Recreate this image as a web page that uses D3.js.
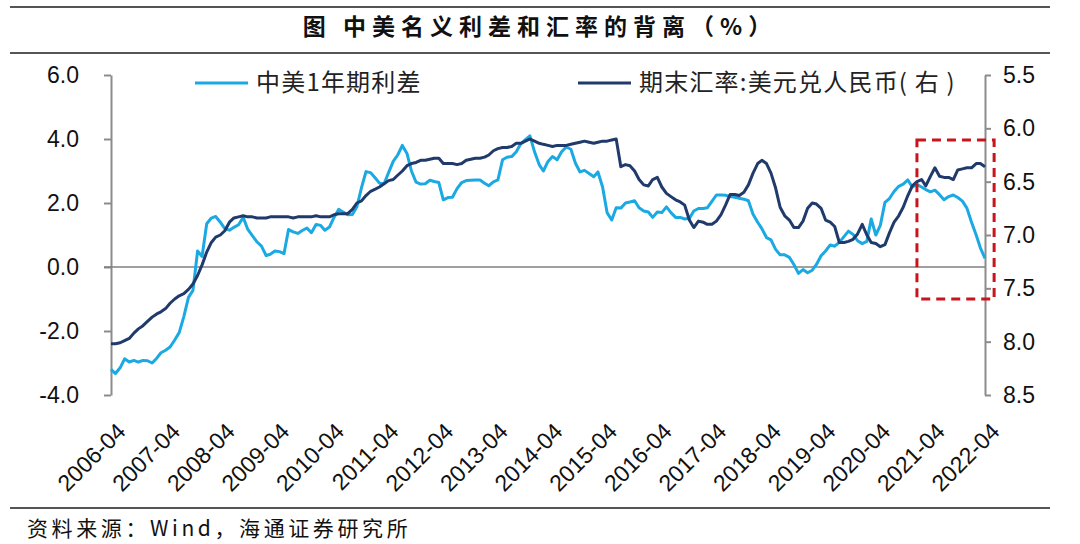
<!DOCTYPE html>
<html>
<head>
<meta charset="utf-8">
<script src="https://cdn.jsdelivr.net/npm/d3@7/dist/d3.min.js"></script>
<style>
  html, body { margin: 0; padding: 0; background: #fff; }
  svg { display: block; }
</style>
</head>
<body>
<svg id="chart" width="1080" height="544"></svg>
<script>
// ---------------- DATA ----------------
const titleText = "图  中美名义利差和汇率的背离（%）";
const sourceText = "资料来源：Wind，海通证券研究所";
const seriesNames = ["中美1年期利差", "期末汇率:美元兑人民币( 右 )"];
const startMonth = "2006-04";   // first monthly observation
const xTickLabels = ["2006-04","2007-04","2008-04","2009-04","2010-04","2011-04","2012-04","2013-04",
  "2014-04","2015-04","2016-04","2017-04","2018-04","2019-04","2020-04","2021-04","2022-04"];
const leftTicks = [-4, -2, 0, 2, 4, 6];
const rightTicks = [5.5, 6.0, 6.5, 7.0, 7.5, 8.0, 8.5];

// 中美1年期利差 (%), monthly from 2006-04
const spread = [
  -3.20,-3.33,-3.15,-2.87,-2.97,-2.92,-2.97,-2.92,-2.93,-3.00,-2.85,-2.68,-2.60,-2.50,-2.28,-2.05,
  -1.55,-0.95,-0.73,0.50,0.33,1.35,1.53,1.58,1.40,1.20,1.15,1.24,1.32,1.55,1.18,0.98,
  0.79,0.65,0.36,0.40,0.50,0.48,0.42,1.17,1.10,1.05,1.14,1.22,1.07,1.33,1.30,1.15,
  1.25,1.55,1.80,1.72,1.63,1.64,1.88,2.48,2.98,2.95,2.78,2.62,2.60,2.95,3.30,3.50,
  3.80,3.55,3.00,2.65,2.59,2.60,2.71,2.67,2.64,2.10,2.17,2.18,2.45,2.64,2.70,2.71,
  2.72,2.72,2.62,2.54,2.66,2.72,3.35,3.43,3.45,3.60,3.85,3.98,4.10,3.60,3.20,3.00,
  3.30,3.45,3.35,3.60,3.75,3.68,3.25,2.97,3.02,2.92,2.82,2.97,2.50,1.70,1.47,1.85,
  1.84,2.00,2.03,2.07,1.85,1.75,1.72,1.55,1.72,1.70,1.88,1.70,1.55,1.55,1.50,1.52,
  1.75,1.83,1.83,1.85,2.05,2.25,2.25,2.24,2.20,2.18,2.15,2.12,2.07,1.65,1.40,1.20,
  0.92,0.85,0.55,0.38,0.38,0.30,0.08,-0.20,-0.08,-0.18,-0.10,0.08,0.35,0.50,0.69,0.65,
  0.77,0.95,1.12,1.02,0.82,0.73,0.80,1.50,1.00,1.30,2.02,2.14,2.36,2.52,2.59,2.72,
  2.50,2.58,2.50,2.42,2.35,2.40,2.26,2.10,2.20,2.25,2.17,2.06,1.84,1.40,1.00,0.60,
  0.27
];

// 期末汇率:美元兑人民币 (right axis, inverted), monthly from 2006-04
const usdcny = [
  8.02,8.02,8.01,7.99,7.97,7.92,7.88,7.85,7.81,7.77,7.74,7.72,7.69,7.64,7.60,7.57,
  7.55,7.51,7.46,7.38,7.28,7.16,7.07,7.02,7.00,6.96,6.88,6.84,6.83,6.82,6.83,6.83,
  6.84,6.84,6.84,6.83,6.83,6.83,6.83,6.83,6.84,6.83,6.83,6.83,6.83,6.82,6.83,6.83,
  6.83,6.81,6.80,6.80,6.80,6.76,6.70,6.68,6.63,6.59,6.57,6.55,6.52,6.49,6.48,6.44,
  6.40,6.35,6.33,6.32,6.30,6.30,6.29,6.28,6.28,6.33,6.33,6.33,6.34,6.33,6.30,6.29,
  6.28,6.28,6.27,6.25,6.21,6.19,6.18,6.18,6.17,6.14,6.14,6.12,6.10,6.12,6.14,6.15,
  6.16,6.17,6.16,6.16,6.16,6.15,6.14,6.13,6.12,6.13,6.14,6.13,6.12,6.12,6.11,6.10,
  6.36,6.34,6.35,6.40,6.48,6.53,6.54,6.48,6.46,6.55,6.61,6.64,6.67,6.69,6.72,6.86,
  6.93,6.87,6.88,6.90,6.90,6.87,6.81,6.72,6.62,6.62,6.63,6.60,6.53,6.42,6.33,6.30,
  6.33,6.42,6.56,6.74,6.82,6.86,6.93,6.93,6.87,6.75,6.70,6.71,6.75,6.86,6.88,6.92,
  7.07,7.07,7.06,7.04,6.99,6.90,7.00,7.07,7.08,7.11,7.09,6.98,6.88,6.82,6.74,6.63,
  6.54,6.50,6.48,6.54,6.45,6.37,6.45,6.46,6.46,6.48,6.39,6.38,6.37,6.37,6.33,6.33,
  6.36
];

// highlighted period (red dashed box): months and value range on the right axis
const highlightStart = "2021-01";
const highlightEnd = "2022-06";
const highlightRate = [6.11, 7.6];

// ---------------- CHART ----------------
const svg = d3.select("#chart");
const parse = d3.timeParse("%Y-%m");
const t0 = parse(startMonth);
const dates = spread.map((_, i) => d3.timeMonth.offset(t0, i));
const lastDate = dates[dates.length - 1];

const L = 111, R = 985, T = 75, B = 395;
const x = d3.scaleTime().domain([t0, lastDate]).range([L, R]);
const yL = d3.scaleLinear().domain([-4, 6]).range([B, T]);
const yR = d3.scaleLinear().domain([5.5, 8.5]).range([T, B]);

const fontLatin = "'Liberation Sans', Arial, sans-serif";
const fontCJK = "'Noto Sans CJK SC', 'Noto Sans', sans-serif";
const lightBlue = "#1ba9e3";
const navy = "#1f3a6b";
const axisGray = "#8c8c8c";

// title & frame lines
svg.append("line").attr("x1", 10).attr("x2", 1050).attr("y1", 7).attr("y2", 7)
  .attr("stroke", "#555").attr("stroke-width", 2);
svg.append("line").attr("x1", 10).attr("x2", 1050).attr("y1", 53).attr("y2", 53)
  .attr("stroke", "#555").attr("stroke-width", 2);
svg.append("text").attr("x", 540).attr("y", 35).attr("text-anchor", "middle")
  .attr("font-family", fontCJK).attr("font-weight", "bold").attr("font-size", 23)
  .attr("letter-spacing", 6).attr("fill", "#111").text(titleText);
svg.append("line").attr("x1", 10).attr("x2", 1050).attr("y1", 508).attr("y2", 508)
  .attr("stroke", "#555").attr("stroke-width", 2);
svg.append("text").attr("x", 27).attr("y", 536)
  .attr("font-family", fontCJK).attr("font-size", 21).attr("letter-spacing", 3.6)
  .attr("fill", "#111").text(sourceText);

// left axis
const gL = svg.append("g").attr("transform", `translate(${L},0)`)
  .call(d3.axisLeft(yL).tickValues(leftTicks).tickFormat(d => d.toFixed(1))
    .tickSize(7).tickSizeOuter(0).tickPadding(25));
// right axis
const gR = svg.append("g").attr("transform", `translate(${R},0)`)
  .call(d3.axisRight(yR).tickValues(rightTicks).tickFormat(d => d.toFixed(1))
    .tickSize(6).tickSizeOuter(0).tickPadding(12));
[gL, gR].forEach(g => {
  g.select(".domain").attr("stroke", axisGray).attr("stroke-width", 2);
  g.selectAll(".tick line").attr("stroke", axisGray).attr("stroke-width", 2);
  g.selectAll(".tick text").attr("font-family", fontLatin).attr("font-size", 23).attr("fill", "#111");
});

// zero line
svg.append("line").attr("x1", L - 7).attr("x2", R).attr("y1", yL(0)).attr("y2", yL(0))
  .attr("stroke", "#808080").attr("stroke-width", 1.6);

// x labels
const gx = svg.append("g");
gx.selectAll("text").data(xTickLabels).join("text")
  .attr("transform", d => `translate(${x(parse(d)) + 16},433) rotate(-45)`)
  .attr("text-anchor", "end")
  .attr("font-family", fontLatin).attr("font-size", 23).attr("fill", "#111")
  .text(d => d);

// lines
const lineL = d3.line().x((d, i) => x(dates[i])).y(d => yL(d));
const lineR = d3.line().x((d, i) => x(dates[i])).y(d => yR(d));
svg.append("path").datum(spread).attr("d", lineL).attr("fill", "none")
  .attr("stroke", lightBlue).attr("stroke-width", 3).attr("stroke-linejoin", "round");
svg.append("path").datum(usdcny).attr("d", lineR).attr("fill", "none")
  .attr("stroke", navy).attr("stroke-width", 3).attr("stroke-linejoin", "round");

// highlight box
const hx0 = x(parse(highlightStart)), hx1 = x(parse(highlightEnd));
svg.append("rect").attr("x", hx0).attr("y", yR(highlightRate[0]))
  .attr("width", hx1 - hx0).attr("height", yR(highlightRate[1]) - yR(highlightRate[0]))
  .attr("fill", "none").attr("stroke", "#c8141c").attr("stroke-width", 3)
  .attr("stroke-dasharray", "9,6");

// legend
const legend = [
  { name: seriesNames[0], color: lightBlue, x: 195 },
  { name: seriesNames[1], color: navy, x: 578 }
];
legend.forEach(l => {
  svg.append("line").attr("x1", l.x).attr("x2", l.x + 53).attr("y1", 83).attr("y2", 83)
    .attr("stroke", l.color).attr("stroke-width", 3);
  svg.append("text").attr("x", l.x + 61).attr("y", 83).attr("dy", "0.35em")
    .attr("font-family", fontCJK).attr("font-size", 24).attr("letter-spacing", 1.2)
    .attr("fill", "#222").text(l.name);
});
</script>
</body>
</html>
